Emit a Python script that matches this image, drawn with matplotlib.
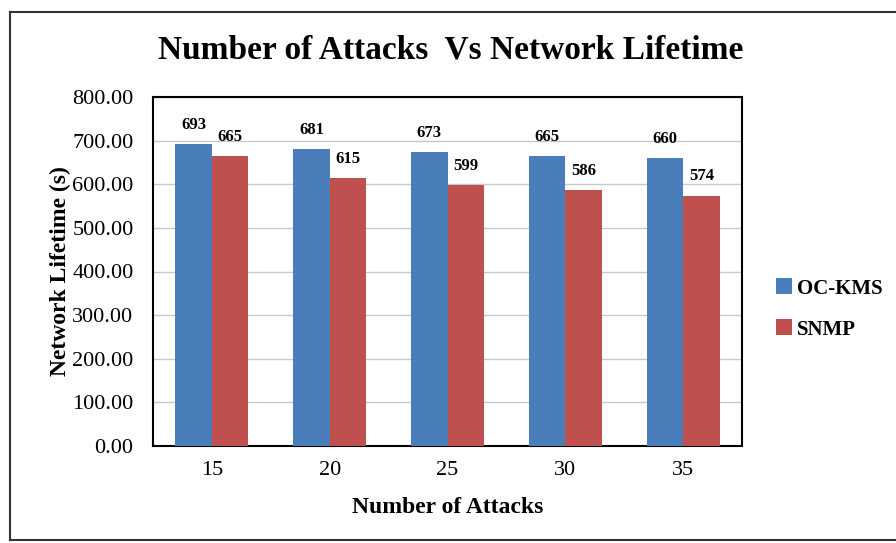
import matplotlib.pyplot as plt
import numpy as np
from matplotlib.lines import Line2D

attacks = ['15', '20', '25', '30', '35']
ockms = [693, 681, 673, 665, 660]
snmp = [665, 615, 599, 586, 574]

plt.rcParams['font.family'] = ['Liberation Serif', 'DejaVu Serif']

fig = plt.figure(figsize=(8.96, 5.43), dpi=100)
ax = fig.add_axes([153/896, 1-446/543, (742-153)/896, (446-97)/543])

x = np.arange(len(attacks))
w = 0.31
b1 = ax.bar(x - w/2, ockms, w, color='#4a7ebb', label='OC-KMS', zorder=3)
b2 = ax.bar(x + w/2, snmp, w, color='#c0504d', label='SNMP', zorder=3)

for rect, v in zip(b1, ockms):
    ax.annotate(str(v), (rect.get_x() + rect.get_width()/2, v), xytext=(0, 8),
                textcoords='offset points', ha='center', va='bottom',
                fontsize=12, fontweight='bold')
for rect, v in zip(b2, snmp):
    ax.annotate(str(v), (rect.get_x() + rect.get_width()/2, v), xytext=(0, 8),
                textcoords='offset points', ha='center', va='bottom',
                fontsize=12, fontweight='bold')

ax.set_xlim(-0.5, 4.5)
ax.set_ylim(0, 800)
ax.set_yticks(np.arange(0, 801, 100))
ax.set_yticklabels(['%.2f' % t for t in np.arange(0, 801, 100)])
ax.set_xticks(x)
ax.set_xticklabels(attacks)
ax.tick_params(length=0, labelsize=16)
ax.tick_params(axis='y', pad=14)
ax.tick_params(axis='x', pad=11)
ax.grid(axis='y', color='#c8c8c8', linewidth=1, zorder=0)
for s in ax.spines.values():
    s.set_linewidth(1.5)
    s.set_color('black')

ax.set_xlabel('Number of Attacks', fontsize=17, fontweight='bold')
ax.set_ylabel('Network Lifetime (s)', fontsize=17, fontweight='bold')
ax.xaxis.set_label_coords(0.5, -0.146)
ax.yaxis.set_label_coords(-0.139, 0.5)
fig.text(451/896, 1-50/543, 'Number of Attacks  Vs Network Lifetime', ha='center', va='center',
         fontsize=24, fontweight='bold')

fig.legend(handles=[b1, b2], loc='center left', bbox_to_anchor=(757/896, 1-309/543),
           frameon=False, prop={'weight': 'bold', 'size': 15},
           handlelength=0.8, handleheight=0.8, handletextpad=0.2, labelspacing=1.0)

# outer frame
for xs, ys in [([10/896, 10/896], [3/543, 1-12/543]),
               ([10/896, 1], [1-12/543, 1-12/543]),
               ([10/896, 1], [3/543, 3/543])]:
    fig.add_artist(Line2D(xs, ys, color='#333333', linewidth=1.5))

fig.savefig('out.png', dpi=100)
